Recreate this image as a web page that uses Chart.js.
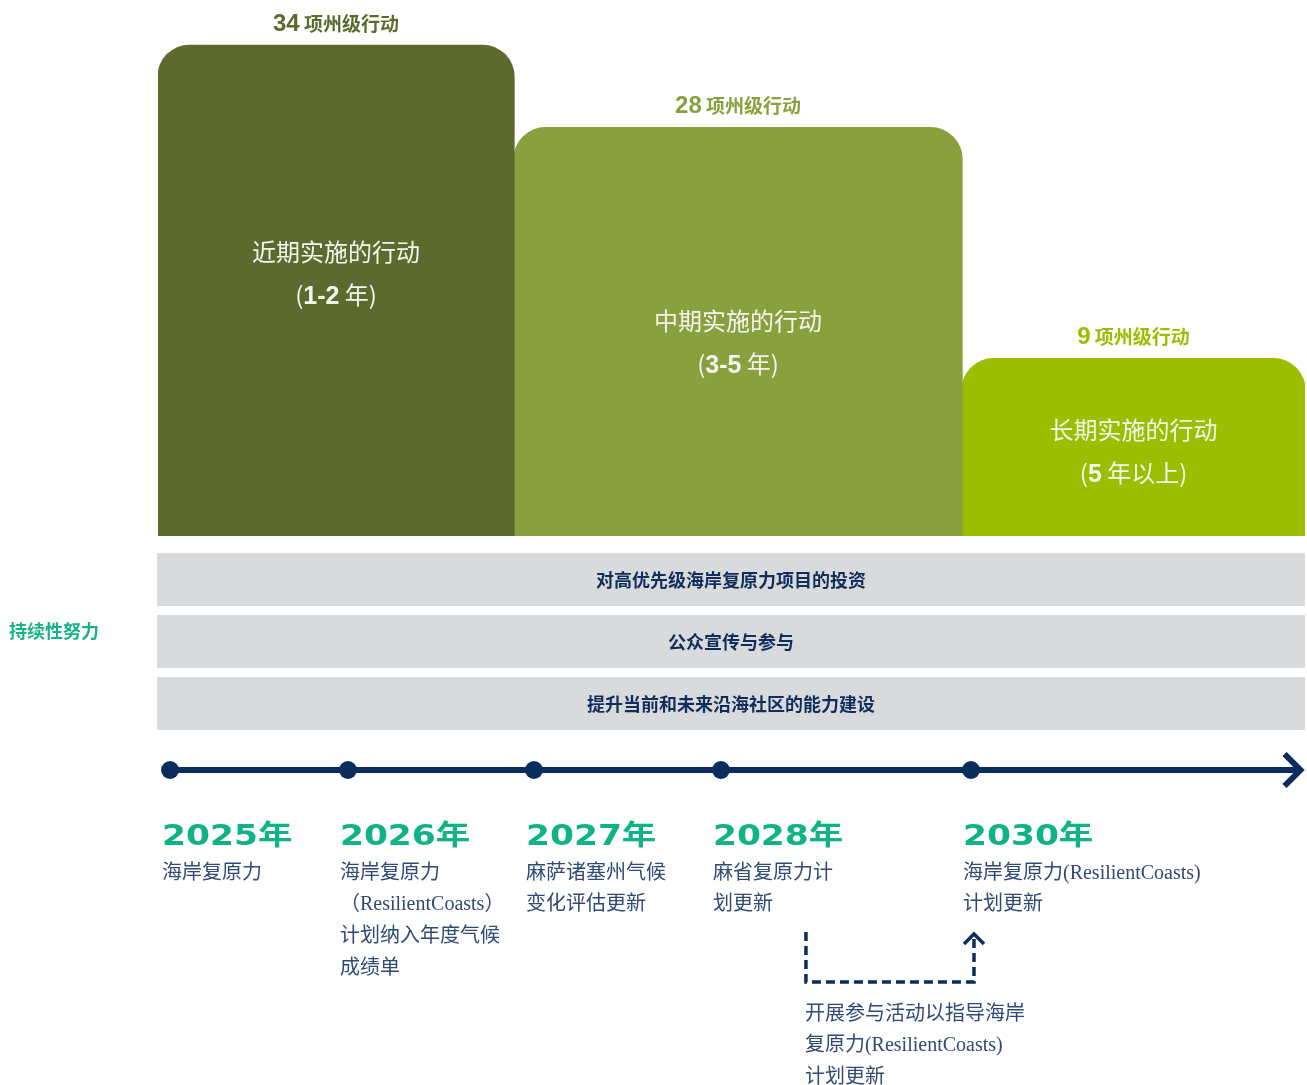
<!DOCTYPE html>
<html>
<head>
<meta charset="utf-8">
<script src="https://cdn.jsdelivr.net/npm/chart.js@4.4.1/dist/chart.umd.min.js"></script>
<style>
html,body{margin:0;padding:0;background:#ffffff;}
#page{position:relative;width:1307px;height:1085px;overflow:hidden;background:#fff;}
.box{position:absolute;left:0;width:1307px;}
</style>
</head>
<body>
<div id="page">
  <div class="box" style="top:0;height:540px"><canvas id="bars"></canvas></div>
  <div class="box" style="top:540px;height:200px"><canvas id="bands"></canvas></div>
  <div class="box" style="top:740px;height:345px"><canvas id="timeline"></canvas></div>
</div>
<script>
// ---------------- DATA ----------------
const phaseNames = ['近期实施的行动', '中期实施的行动', '长期实施的行动'];
const phaseDurations = ['1-2 年', '3-5 年', '5 年以上'];
const actionCounts = [34, 28, 9];
const countUnit = '项州级行动';
// bar heights as drawn in the picture (in action units, bar 1 = 34)
const barHeights = [34, 28.3, 12.3];

const bandLabels = ['对高优先级海岸复原力项目的投资', '公众宣传与参与', '提升当前和未来沿海社区的能力建设'];
const bandSpan = [0, 100];
const sideLabel = '持续性努力';

const years = ['2025年', '2026年', '2027年', '2028年', '2030年'];
const milestoneText = [
  ['海岸复原力'],
  ['海岸复原力', '（ResilientCoasts）', '计划纳入年度气候', '成绩单'],
  ['麻萨诸塞州气候', '变化评估更新'],
  ['麻省复原力计', '划更新'],
  ['海岸复原力(ResilientCoasts)', '计划更新']
];
const annotationText = ['开展参与活动以指导海岸', '复原力(ResilientCoasts)', '计划更新'];

// ---------------- LAYOUT (percent of the band width) ----------------
const barEdges = [0, 31.04, 70.10, 100];
const innerLabelLevel = [19.7, 14.9, 7.35];
const timelinePos = [1.05, 16.56, 32.78, 49.08, 70.88];
const axisEnd = 99.65;
const yMax = 37.12;

// ---------------- STYLE ----------------
const barColors = ['#5c6b2d', '#89a03e', '#9bbf00'];
const navy = '#0b2d5e';
const green = '#0fb387';
const descColor = '#2f4a74';
const CJK = '"Noto Sans CJK SC"';

function drawRuns(ctx, runs, cx, y, color) {
  ctx.save();
  ctx.textBaseline = 'alphabetic';
  ctx.textAlign = 'left';
  ctx.fillStyle = color;
  let w = 0;
  runs.forEach(r => { ctx.font = r.font; r.w = ctx.measureText(r.t).width; w += r.w; });
  let x = cx - w / 2;
  runs.forEach(r => { ctx.font = r.font; ctx.fillText(r.t, x, y); x += r.w; });
  ctx.restore();
}

// ---------------- CHART 1: phase bars ----------------
const spanPlugin = {
  id: 'spanPlugin',
  afterLayout(chart) {
    const xs = chart.scales.x;
    chart.data.datasets.forEach((ds, i) => {
      ds.barThickness = xs.getPixelForValue(barEdges[i + 1]) - xs.getPixelForValue(barEdges[i]) + 0.6;
    });
  }
};
const barLabelPlugin = {
  id: 'barLabelPlugin',
  afterDatasetsDraw(chart) {
    const ctx = chart.ctx;
    const ys = chart.scales.y;
    chart.data.datasets.forEach((ds, i) => {
      const el = chart.getDatasetMeta(i).data[0];
      if (!el) return;
      drawRuns(ctx, [
        {t: String(actionCounts[i]), font: 'bold 24px "Liberation Sans", Arial, sans-serif'},
        {t: ' ', font: 'bold 19px ' + CJK},
        {t: countUnit, font: 'bold 19px ' + CJK}
      ], el.x, el.y - 14, barColors[i]);
      const base1 = ys.getPixelForValue(innerLabelLevel[i]) + 9;
      drawRuns(ctx, [{t: phaseNames[i], font: '24px ' + CJK}], el.x, base1, '#f4f5ee');
      const m = phaseDurations[i].match(/^([0-9\-]+)(.*)$/);
      drawRuns(ctx, [
        {t: '(', font: '24px ' + CJK},
        {t: m[1], font: 'bold 25px "Liberation Sans", Arial, sans-serif'},
        {t: m[2] + ')', font: '24px ' + CJK}
      ], el.x, base1 + 43, '#f4f5ee');
    });
  }
};

const barsChart = new Chart(document.getElementById('bars'), {
  type: 'bar',
  data: {
    datasets: phaseNames.map((n, i) => ({
      label: n,
      data: [{x: (barEdges[i] + barEdges[i + 1]) / 2, y: barHeights[i]}],
      backgroundColor: barColors[i],
      borderWidth: 0,
      borderRadius: 32,
      borderSkipped: 'start',
      grouped: false,
      barThickness: 100
    }))
  },
  options: {
    responsive: true,
    maintainAspectRatio: false,
    animation: false,
    layout: {autoPadding: false, padding: {left: 158, right: 2, top: 0, bottom: 4}},
    scales: {
      x: {type: 'linear', min: 0, max: 100, display: false, offset: false},
      y: {type: 'linear', min: 0, max: yMax, display: false}
    },
    plugins: {legend: {display: false}, tooltip: {enabled: false}}
  },
  plugins: [spanPlugin, barLabelPlugin]
});
barsChart.update();

// ---------------- CHART 2: continuing efforts bands ----------------
const bandLabelPlugin = {
  id: 'bandLabelPlugin',
  afterDatasetsDraw(chart) {
    const ctx = chart.ctx;
    const meta = chart.getDatasetMeta(0);
    ctx.save();
    ctx.fillStyle = '#0f2e5c';
    ctx.font = 'bold 18px ' + CJK;
    ctx.textAlign = 'center';
    ctx.textBaseline = 'alphabetic';
    meta.data.forEach((el, i) => {
      ctx.fillText(bandLabels[i], (el.x + el.base) / 2, el.y + 7);
    });
    const mid = meta.data[1];
    ctx.fillStyle = '#17b388';
    ctx.textAlign = 'left';
    ctx.fillText(sideLabel, 9, mid.y - 10.5 + 7);
    ctx.restore();
  }
};
new Chart(document.getElementById('bands'), {
  type: 'bar',
  data: {
    labels: bandLabels,
    datasets: [{
      data: bandLabels.map(() => bandSpan),
      backgroundColor: '#d9dadc',
      borderWidth: 0,
      categoryPercentage: 1,
      barPercentage: 0.855
    }]
  },
  options: {
    indexAxis: 'y',
    responsive: true,
    maintainAspectRatio: false,
    animation: false,
    layout: {autoPadding: false, padding: {left: 157, right: 2, top: 8.5, bottom: 5.5}},
    scales: {
      x: {type: 'linear', min: 0, max: 100, display: false},
      y: {display: false}
    },
    plugins: {legend: {display: false}, tooltip: {enabled: false}}
  },
  plugins: [bandLabelPlugin]
});

// ---------------- CHART 3: timeline ----------------
const timelinePlugin = {
  id: 'timelinePlugin',
  afterDatasetsDraw(chart) {
    const ctx = chart.ctx;
    const xs = chart.scales.x;
    const meta = chart.getDatasetMeta(0);
    const y0 = meta.data[0].y;
    ctx.save();
    const tip = xs.getPixelForValue(100) - 4.5;
    ctx.strokeStyle = navy;
    ctx.lineWidth = 6;
    ctx.lineJoin = 'miter';
    ctx.lineCap = 'butt';
    ctx.beginPath();
    ctx.moveTo(tip - 16, y0 - 16);
    ctx.lineTo(tip, y0);
    ctx.lineTo(tip - 16, y0 + 16);
    ctx.stroke();

    years.forEach((yr, i) => {
      const el = meta.data[i];
      const x0 = el.x - 8;
      ctx.save();
      ctx.translate(x0, y0 + 75);
      ctx.scale(1.23, 1);
      ctx.fillStyle = green;
      ctx.font = 'bold 28px "DejaVu Sans", ' + CJK;
      ctx.textBaseline = 'alphabetic';
      ctx.textAlign = 'left';
      ctx.fillText(yr, 0, 0);
      ctx.restore();
      ctx.fillStyle = descColor;
      ctx.font = '20px "Liberation Serif", ' + CJK;
      ctx.textAlign = 'left';
      ctx.textBaseline = 'alphabetic';
      milestoneText[i].forEach((line, k) => {
        ctx.fillText(line, x0, y0 + 101 + k * 31.7 + 7.5);
      });
    });

    const e28 = meta.data[3], e30 = meta.data[4];
    const xL = e28.x + 85, xR = e30.x + 3;
    const yTop = y0 + 162, yBot = y0 + 212, yTip = y0 + 163;
    ctx.strokeStyle = navy;
    ctx.lineWidth = 3.5;
    ctx.setLineDash([9, 5]);
    ctx.beginPath();
    ctx.moveTo(xL, yTop);
    ctx.lineTo(xL, yBot);
    ctx.lineTo(xR, yBot);
    ctx.lineTo(xR, yTip + 6);
    ctx.stroke();
    ctx.setLineDash([]);
    ctx.beginPath();
    ctx.moveTo(xR - 10, yTip + 11);
    ctx.lineTo(xR, yTip + 1);
    ctx.lineTo(xR + 10, yTip + 11);
    ctx.stroke();

    ctx.fillStyle = descColor;
    ctx.font = '20px "Liberation Serif", ' + CJK;
    annotationText.forEach((line, k) => {
      ctx.fillText(line, xL - 1, y0 + 242 + k * 31.5 + 7.5);
    });
    ctx.restore();
  }
};
new Chart(document.getElementById('timeline'), {
  type: 'line',
  data: {
    datasets: [{
      data: timelinePos.map(p => ({x: p, y: 0})).concat([{x: axisEnd, y: 0}]),
      borderColor: navy,
      borderWidth: 6,
      pointRadius: timelinePos.map(() => 9).concat([0]),
      pointHoverRadius: 0,
      pointBackgroundColor: navy,
      pointBorderWidth: 0,
      tension: 0,
      clip: false
    }]
  },
  options: {
    responsive: true,
    maintainAspectRatio: false,
    animation: false,
    layout: {autoPadding: false, padding: {left: 158, right: 2, top: 0, bottom: 285}},
    scales: {
      x: {type: 'linear', min: 0, max: 100, display: false},
      y: {type: 'linear', min: -10, max: 10, display: false}
    },
    plugins: {legend: {display: false}, tooltip: {enabled: false}}
  },
  plugins: [timelinePlugin]
});
</script>
</body>
</html>
